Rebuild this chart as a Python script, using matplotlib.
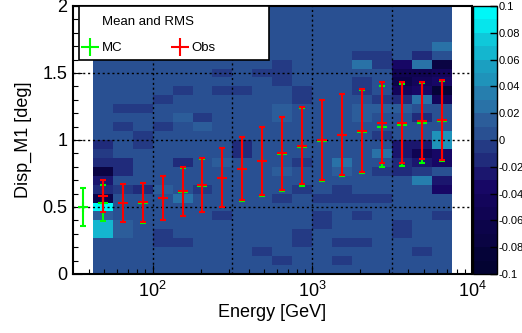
import numpy as np
import matplotlib as mpl
mpl.use('Agg')
import matplotlib.pyplot as plt
from matplotlib.colors import LinearSegmentedColormap, ListedColormap, BoundaryNorm
from matplotlib.lines import Line2D
from matplotlib.patches import Rectangle
from matplotlib.ticker import LogLocator, MultipleLocator, FixedLocator, FixedFormatter, NullFormatter

plt.rcParams['font.family'] = ['Liberation Sans', 'DejaVu Sans']
plt.rcParams['mathtext.fontset'] = 'custom'
plt.rcParams['mathtext.rm'] = 'Liberation Sans'
plt.rcParams['mathtext.it'] = 'Liberation Sans:italic'

# binning (log energy, 20 bins from 10^1.5 to 10^4; disp 30 bins in [0,2])
energy_edges = np.logspace(1.5, 4.0, 21)
disp_edges = np.linspace(0.0, 2.0, 31)
energy_centers = np.sqrt(energy_edges[:-1] * energy_edges[1:])

# MC - Obs difference per cell [1e-2], energy bins 1..18, rows listed top (2.0) -> bottom (0)
diff_rows = [
    [0.5, 0.5, 0.5, 0.5, 0.5, 0.5, 0.5, 0.5, 0.5, 0.5, 0.5, 0.5, 0.5, 0.5, 0.5, 0.5, 0.5, 0.5],
    [0.5, 0.5, 0.5, 0.5, 0.5, 0.5, 0.5, 0.5, 0.5, 0.5, 0.5, 0.5, 0.5, 0.5, 0.5, 0.5, 0.5, 0.5],
    [0.5, 0.5, 0.5, 0.5, 0.5, 0.5, 0.5, 0.5, 0.5, 0.5, 0.5, 0.5, 0.5, 0.5, 0.5, 0.5, 0.5, 0.5],
    [0.5, 0.5, 0.5, 0.5, 0.5, 0.5, 0.5, 0.5, 0.5, 0.5, 0.5, 0.5, 0.5, 0.5, 0.5, 0.5, 0.5, 0.5],
    [0.5, 0.5, 0.5, 0.5, 0.5, 0.5, 0.5, 0.5, 0.5, 0.5, 0.5, 0.5, 0.5, 0.5, 0.5, 0.5, 0.5, 2.5],
    [0.5, 0.5, 0.5, 0.5, 0.5, 0.5, 0.5, 0.5, 0.5, 0.5, 0.5, 0.5, 0.5, -0.5, -0.5, 0.5, -1.5, 0.5],
    [0.5, 0.5, 0.5, 0.5, 0.5, 0.5, 0.5, 0.5, 0.5, -0.5, 0.5, 0.5, 0.5, 2.5, -0.5, -3.5, 2.5, -7.5],
    [0.5, 0.5, 0.5, 0.5, 0.5, 0.5, -0.5, 0.5, -0.5, -0.5, 0.5, 0.5, 0.5, 0.5, 0.5, -5.5, -5.5, -4.5],
    [0.5, 0.5, 0.5, 0.5, 0.5, 0.5, 0.5, 0.5, 0.5, -0.5, 0.5, 0.5, 0.5, -0.5, 0.5, -6.5, -4.5, -3.5],
    [0.5, 0.5, 0.5, 0.5, -0.5, 0.5, -0.5, -0.5, 0.5, 0.5, -0.5, 0.5, 0.5, -0.5, 0.5, -4.5, -3.5, -8.5],
    [0.5, 0.5, 0.5, -0.5, 0.5, 0.5, 0.5, 0.5, 0.5, 0.5, -0.5, 0.5, 0.5, 0.5, -0.5, -1.5, 2.5, -4.5],
    [0.5, -0.5, -0.5, 0.5, 0.5, 0.5, 0.5, 0.5, 0.5, 1.5, 0.5, 0.5, 0.5, 1.5, 1.5, 1.5, 0.5, 0.5],
    [0.5, 0.5, 0.5, 0.5, 1.5, -0.5, 0.5, 0.5, 0.5, 1.5, 0.5, 0.5, 0.5, 1.5, 0.5, 0.5, -1.5, 0.5],
    [0.5, -0.5, 0.5, -0.5, 0.5, 1.5, 0.5, 0.5, 0.5, 0.5, 0.5, 0.5, 0.5, 0.5, 0.5, 0.5, 0.5, 0.5],
    [0.5, 0.5, -0.5, 0.5, 0.5, 0.5, 0.5, 0.5, 0.5, 0.5, 0.5, 0.5, 0.5, 0.5, -0.5, 0.5, 0.5, 4.5],
    [-1.5, 0.5, -0.5, 0.5, 0.5, 0.5, 0.5, -1.5, 0.5, 0.5, 0.5, 0.5, 0.5, 0.5, 0.5, -2.5, -2.5, 4.5],
    [-0.5, 0.5, 0.5, 0.5, 0.5, 0.5, 0.5, -1.5, 0.5, 0.5, 0.5, 0.5, 0.5, 0.5, 2.5, -2.5, -5.5, -3.5],
    [-1.5, -1.5, 0.5, 0.5, -1.5, 0.5, 1.5, 0.5, 0.5, 0.5, -0.5, 0.5, 2.5, 0.5, 0.5, -1.5, -2.5, -3.5],
    [-7.5, -1.5, 0.5, 0.5, 0.5, 0.5, 0.5, 0.5, 0.5, 1.5, 0.5, 0.5, 1.5, 0.5, -0.5, -1.5, -0.5, 0.5],
    [-2.5, 0.5, 0.5, 0.5, 0.5, 0.5, 0.5, 0.5, 0.5, 0.5, 0.5, 0.5, 0.5, 0.5, 0.5, 0.5, 3.5, -2.5],
    [-1.5, -0.5, -1.5, 1.5, 0.5, -0.5, 0.5, 0.5, 0.5, 0.5, -0.5, 0.5, -0.5, 0.5, 0.5, 0.5, 0.5, -3.5],
    [-6.5, 0.5, 0.5, 0.5, 2.5, 0.5, 0.5, 0.5, 0.5, -0.5, 0.5, -0.5, -0.5, -0.5, -0.5, 0.5, 0.5, 0.5],
    [9.5, 0.5, 0.5, 0.5, 0.5, 0.5, 0.5, 0.5, 0.5, 0.5, 0.5, 0.5, 0.5, 0.5, 0.5, 0.5, 0.5, 0.5],
    [1.5, 0.5, 0.5, 0.5, 0.5, 0.5, -0.5, 0.5, 0.5, 0.5, 0.5, -0.5, 0.5, -0.5, 0.5, 0.5, 0.5, -0.5],
    [6.5, 1.5, 0.5, 0.5, 0.5, 0.5, 0.5, 0.5, 0.5, 0.5, 0.5, -0.5, 0.5, 0.5, 0.5, -0.5, 0.5, 0.5],
    [6.5, 1.5, 0.5, -0.5, 0.5, 0.5, 0.5, 0.5, 0.5, 0.5, -0.5, 0.5, 0.5, 0.5, 0.5, -0.5, 0.5, 0.5],
    [0.5, 0.5, 0.5, -0.5, -0.5, 0.5, 0.5, 0.5, 0.5, 0.5, -0.5, 0.5, -0.5, -0.5, 0.5, 0.5, 0.5, 0.5],
    [0.5, 0.5, 0.5, 0.5, 0.5, 0.5, 0.5, 0.5, -0.5, 0.5, 0.5, 0.5, 0.5, 0.5, 0.5, 0.5, -0.5, 0.5],
    [0.5, 0.5, 0.5, 0.5, 0.5, 0.5, 0.5, 0.5, 0.5, -0.5, 0.5, 0.5, -0.5, 0.5, 0.5, 0.5, 0.5, 0.5],
    [0.5, 0.5, 0.5, 0.5, 0.5, 0.5, 0.5, 0.5, 0.5, 0.5, 0.5, 0.5, 0.5, 0.5, 0.5, 0.5, 0.5, 0.5],
]

# profiles (mean and RMS of Disp_M1 per energy bin), nan = empty bin
mc_mean = [0.50, 0.531, 0.53, 0.53, 0.565, 0.612, 0.66, 0.72, 0.785, 0.84, 0.893,
           0.95, 0.995, 1.035, 1.063, 1.10, 1.114, 1.13, 1.142, np.nan]
mc_rms = [0.141, 0.133, 0.142, 0.146, 0.163, 0.18, 0.2, 0.222, 0.238, 0.258, 0.277,
          0.29, 0.30, 0.305, 0.31, 0.303, 0.306, 0.298, 0.297, np.nan]
obs_mean = [np.nan, 0.58, 0.53, 0.535, 0.565, 0.618, 0.665, 0.72, 0.787, 0.843, 0.90,
            0.957, 1.0, 1.04, 1.07, 1.13, 1.13, 1.144, 1.148, np.nan]
obs_rms = [np.nan, 0.12, 0.145, 0.147, 0.163, 0.183, 0.203, 0.222, 0.237, 0.253, 0.274,
           0.288, 0.302, 0.304, 0.31, 0.304, 0.303, 0.286, 0.296, np.nan]

cbar_ticks = [-0.1, -0.08, -0.06, -0.04, -0.02, 0.0, 0.02, 0.04, 0.06, 0.08, 0.1]
cbar_labels = ['-0.1', '-0.08', '-0.06', '-0.04', '-0.02', '0', '0.02', '0.04', '0.06', '0.08', '0.1']

# ROOT "deep sea" palette (50 colours), 20 contour levels picked like ROOT does
stops = [0.0, 0.34, 0.61, 0.84, 1.0]
pal = [(0.00, 0.01, 0.17), (0.09, 0.02, 0.39), (0.18, 0.39, 0.62), (0.09, 0.68, 0.79), (0.00, 0.97, 0.97)]
base = LinearSegmentedColormap.from_list('deepsea', list(zip(stops, pal)))
nlev = 20
idx = [int((i + 0.99) * 50.0 / nlev) for i in range(nlev)]
cmap = ListedColormap(base(np.array(idx) / 49.0))
levels = np.linspace(-0.1, 0.1, nlev + 1)
norm = BoundaryNorm(levels, nlev)

z = np.full((30, 20), np.nan)
z[:, 1:19] = np.array(diff_rows)[::-1] / 100.0
z = np.ma.masked_invalid(z)

fig = plt.figure(figsize=(5.22, 3.33), dpi=100)
ax = fig.add_axes([0.1393, 0.1772, 0.765, 0.8048])
mesh = ax.pcolormesh(energy_edges, disp_edges, z, cmap=cmap, norm=norm, zorder=1)

ax.set_xscale('log')
ax.set_xlim(energy_edges[0], energy_edges[-1])
ax.set_ylim(0, 2)

# grid (dotted)
for gx in [10**2, 10**2.5, 10**3, 10**3.5]:
    ax.axvline(gx, color='black', lw=1.0, ls=(0, (1.5, 2)), zorder=2)
for gy in [0.5, 1.0, 1.5]:
    ax.axhline(gy, color='black', lw=1.0, ls=(0, (1.5, 2)), zorder=2)

ax.errorbar(energy_centers, mc_mean, yerr=mc_rms, fmt='+', color='#00ff00', ms=7, mew=1.5,
            elinewidth=1.5, capsize=2.5, capthick=1.5, zorder=3)
ax.errorbar(energy_centers, obs_mean, yerr=obs_rms, fmt='+', color='#ff0000', ms=7, mew=1.5,
            elinewidth=1.5, capsize=2.5, capthick=1.5, zorder=4)

# axes style
for sp in ax.spines.values():
    sp.set_linewidth(1.5)
ax.xaxis.set_major_locator(LogLocator(base=10, numticks=10))
ax.xaxis.set_minor_locator(LogLocator(base=10, subs=np.arange(2, 10), numticks=20))
ax.xaxis.set_minor_formatter(NullFormatter())
ax.yaxis.set_major_locator(FixedLocator([0, 0.5, 1, 1.5, 2]))
ax.yaxis.set_major_formatter(FixedFormatter(['0', '0.5', '1', '1.5', '2']))
ax.yaxis.set_minor_locator(MultipleLocator(0.1))
ax.tick_params(which='both', direction='in', top=False, right=False, width=0.8, labelsize=13)
ax.tick_params(which='major', length=6.5)
ax.tick_params(which='minor', length=3.4)
ax.tick_params(axis='y', pad=4)
ax.tick_params(axis='x', pad=5)

ax.set_xlabel('Energy [GeV]', fontsize=13)
ax.set_ylabel('Disp_M1 [deg]', fontsize=13)
ax.xaxis.set_label_coords(0.5, -0.112)
ax.yaxis.set_label_coords(-0.101, 0.5)

# legend
ax.add_patch(Rectangle((0.0145, 0.7985), 0.4771, 0.2015, transform=ax.transAxes,
                       facecolor='white', edgecolor='black', lw=1.2, zorder=6, clip_on=False))
ax.text(0.0726, 0.942, 'Mean and RMS', transform=ax.transAxes, fontsize=9.5,
        ha='left', va='center', zorder=7)
handles = [Line2D([], [], color='#00ff00', marker='+', ms=13, mew=1.5, ls='none'),
           Line2D([], [], color='#ff0000', marker='+', ms=13, mew=1.5, ls='none')]
leg = ax.legend(handles, ['MC', 'Obs'], ncol=2, frameon=False, loc='center left',
                bbox_to_anchor=(0.02, 0.843), borderpad=0, borderaxespad=0,
                handlelength=1.4, handletextpad=0.18, columnspacing=3.68, fontsize=9.5)
leg.set_zorder(7)

# colour bar
cax = fig.add_axes([0.9061, 0.1772, 0.0454, 0.8048])
cb = fig.colorbar(mesh, cax=cax, ticks=cbar_ticks)
cb.ax.set_yticklabels(cbar_labels)
cb.outline.set_linewidth(1.0)
cax.tick_params(direction='in', length=5, width=1.0, labelsize=8, pad=1.5)
cax.minorticks_off()

fig.savefig('out.png', dpi=100)
